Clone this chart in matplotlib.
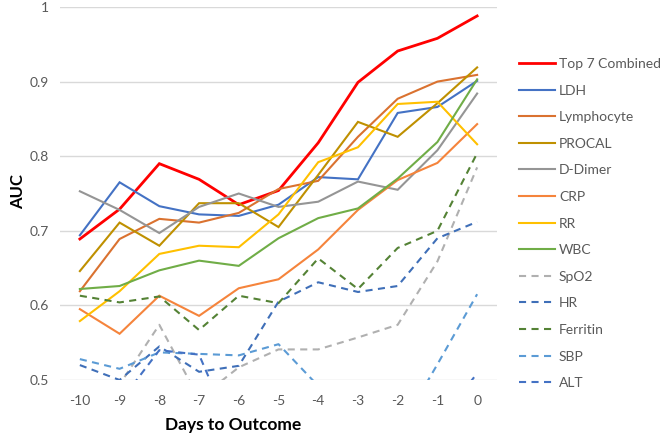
import matplotlib
matplotlib.use("Agg")
import matplotlib.pyplot as plt
from matplotlib.lines import Line2D

plt.rcParams['font.family'] = ['Lato', 'DejaVu Sans']

days = [-10, -9, -8, -7, -6, -5, -4, -3, -2, -1, 0]

top7 = [0.689, 0.729, 0.790, 0.769, 0.735, 0.754, 0.818, 0.899, 0.941, 0.958, 0.988]
ldh = [0.694, 0.765, 0.733, 0.722, 0.720, 0.735, 0.772, 0.769, 0.858, 0.866, 0.901]
lymphocyte = [0.619, 0.689, 0.716, 0.711, 0.724, 0.756, 0.767, 0.826, 0.877, 0.900, 0.909]
procal = [0.646, 0.711, 0.680, 0.737, 0.737, 0.705, 0.775, 0.846, 0.826, 0.871, 0.919]
ddimer = [0.753, 0.728, 0.697, 0.732, 0.750, 0.732, 0.739, 0.766, 0.755, 0.808, 0.884]
crp = [0.595, 0.562, 0.613, 0.586, 0.623, 0.635, 0.675, 0.728, 0.768, 0.791, 0.843]
rr = [0.579, 0.619, 0.669, 0.680, 0.678, 0.722, 0.792, 0.812, 0.870, 0.873, 0.816]
wbc = [0.622, 0.626, 0.647, 0.660, 0.653, 0.690, 0.717, 0.730, 0.770, 0.819, 0.903]
spo2 = [0.480, 0.494, 0.574, 0.475, 0.517, 0.541, 0.541, 0.557, 0.574, 0.659, 0.785]
hr = [0.520, 0.500, 0.545, 0.511, 0.519, 0.605, 0.631, 0.618, 0.626, 0.690, 0.712]
ferritin = [0.613, 0.604, 0.612, 0.567, 0.613, 0.603, 0.663, 0.622, 0.677, 0.700, 0.804]
sbp = [0.528, 0.515, 0.537, 0.535, 0.533, 0.548, 0.492, 0.420, 0.430, 0.521, 0.615]
alt = [0.480, 0.470, 0.540, 0.534, 0.410, 0.400, 0.400, 0.400, 0.400, 0.440, 0.509]

series = [
    ("Top 7 Combined", top7, "#FF0000", False, 2.0),
    ("LDH", ldh, "#4472C4", False, 1.5),
    ("Lymphocyte", lymphocyte, "#DA7230", False, 1.5),
    ("PROCAL", procal, "#BF9000", False, 1.5),
    ("D-Dimer", ddimer, "#959595", False, 1.5),
    ("CRP", crp, "#F5843C", False, 1.5),
    ("RR", rr, "#FFC000", False, 1.5),
    ("WBC", wbc, "#70AD47", False, 1.5),
    ("SpO2", spo2, "#B0B0B0", True, 1.5),
    ("HR", hr, "#3F6FB8", True, 1.5),
    ("Ferritin", ferritin, "#548235", True, 1.5),
    ("SBP", sbp, "#5B9BD5", True, 1.5),
    ("ALT", alt, "#4472C4", True, 1.5),
]

W, H = 661, 437
fig = plt.figure(figsize=(W/100, H/100), dpi=100)
ax = fig.add_axes([60/W, 1-380/H, (497-60)/W, (380-7)/H])

DASH = (3.4, 2.6)
for name, vals, color, dashed, lw in series:
    line, = ax.plot(days, vals, color=color, lw=lw, label=name, solid_joinstyle='miter')
    if dashed:
        line.set_dashes(DASH)

ax.set_xlim(-10.5, 0.5)
ax.set_ylim(0.5, 1.0)
ax.set_xticks(days)
ax.set_xticklabels([str(d) for d in days])
ax.set_yticks([0.5, 0.6, 0.7, 0.8, 0.9, 1.0])
ax.set_yticklabels(["0.5", "0.6", "0.7", "0.8", "0.9", "1"])
ax.grid(axis='y', color='#D9D9D9', lw=1.0)
ax.set_axisbelow(True)
for s in ax.spines.values():
    s.set_visible(False)
ax.tick_params(axis='both', length=0, labelsize=10, labelcolor='#595959')
ax.tick_params(axis='x', pad=11)
ax.tick_params(axis='y', pad=8)

ax.set_xlabel("Days to Outcome", fontsize=12.5, fontweight='bold', color='black')
ax.xaxis.set_label_coords((233.5-60)/437, (380-417)/373)
fig.text(18/W, 1-192/H, "AUC", rotation=90, ha='center', va='center',
         fontsize=12, fontweight='bold', color='black')

# legend (manual, to match the reference layout exactly)
for i, (name, vals, color, dashed, lw) in enumerate(series):
    y = 63 + 26.6*i
    h = Line2D([519/W, 555/W], [1-y/H, 1-y/H], transform=fig.transFigure,
               color=color, lw=lw)
    if dashed:
        h.set_dashes(DASH)
    fig.add_artist(h)
    fig.text(559/W, 1-(y+5)/H, name, ha='left', va='baseline', fontsize=10, color='#595959')

fig.savefig("out.png", dpi=100, facecolor='white')
